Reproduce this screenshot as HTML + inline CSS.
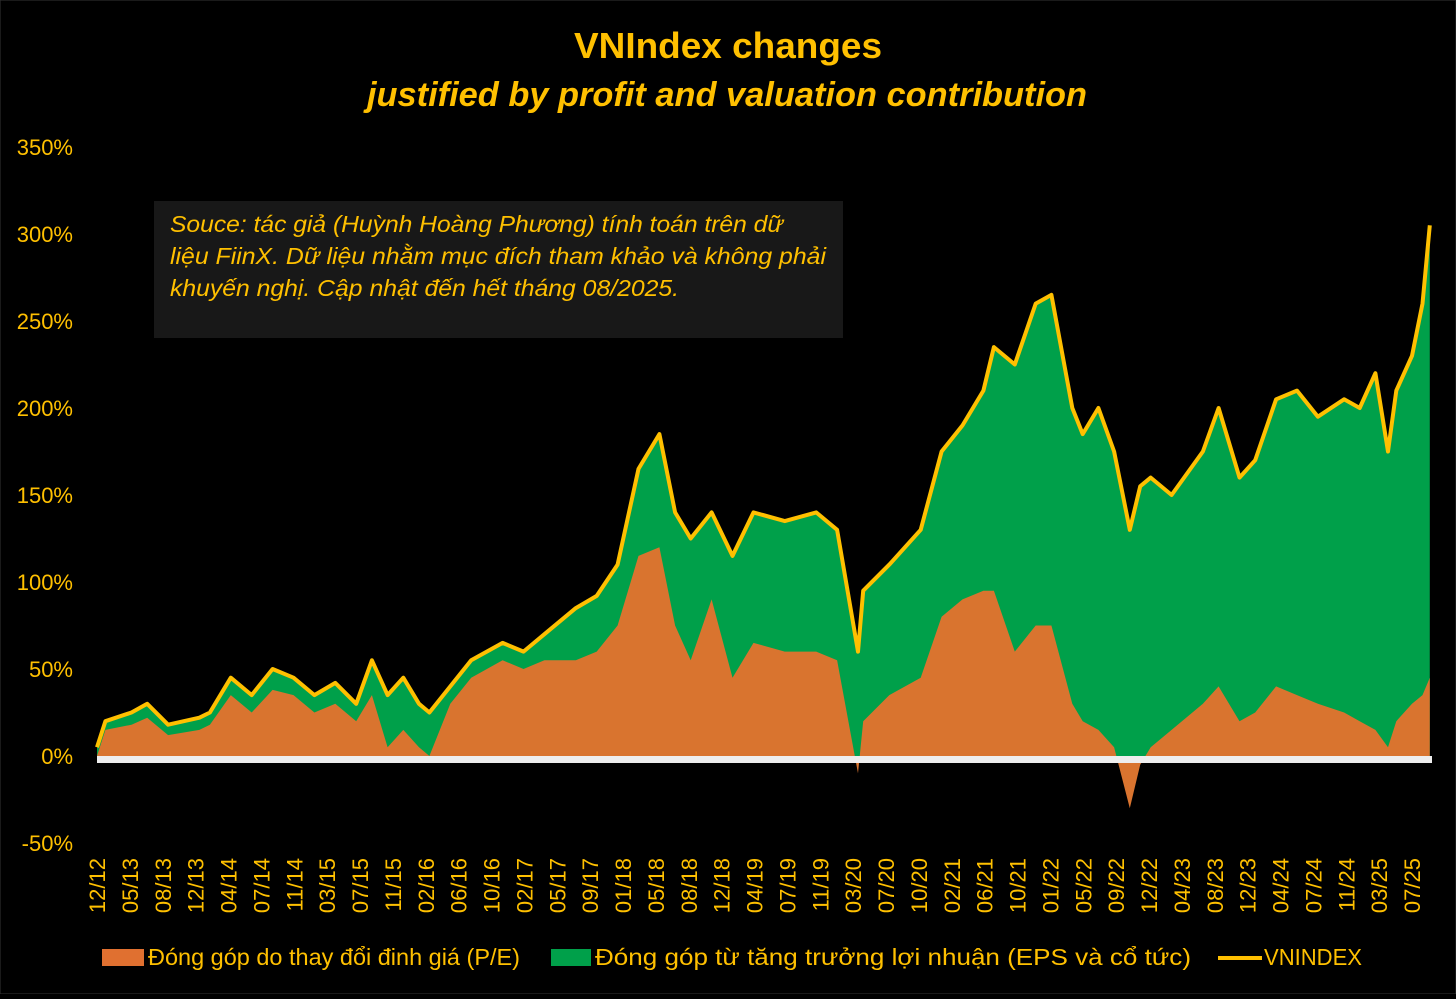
<!DOCTYPE html>
<html><head><meta charset="utf-8">
<style>
body{margin:0;background:#000;width:1456px;height:994px;overflow:hidden;font-family:"Liberation Sans","DejaVu Sans",sans-serif;}
svg text{font-family:"Liberation Sans","DejaVu Sans",sans-serif;}
</style></head>
<body>
<svg id="chart" width="1456" height="994" xmlns="http://www.w3.org/2000/svg">
<rect x="0" y="0" width="1456" height="994" fill="#000" stroke="#333"/>
<text x="574" y="58" textLength="308" lengthAdjust="spacingAndGlyphs" fill="#FFC000" font-size="36" font-weight="bold">VNIndex changes</text>
<text x="367" y="106" textLength="720" lengthAdjust="spacingAndGlyphs" fill="#FFC000" font-size="34" font-weight="bold" font-style="italic">justified by profit and valuation contribution</text>
<g id="plot"></g>
<g id="yaxis"></g>
<g id="xaxis"></g>
<rect x="154" y="201" width="689" height="137" fill="#181818"/>
<text fill="#FFC000" font-size="23" font-style="italic">
<tspan x="170" y="232" textLength="613" lengthAdjust="spacingAndGlyphs">Souce: tác giả (Huỳnh Hoàng Phương) tính toán trên dữ</tspan>
<tspan x="170" y="264" textLength="656" lengthAdjust="spacingAndGlyphs">liệu FiinX. Dữ liệu nhằm mục đích tham khảo và không phải</tspan>
<tspan x="170" y="296" textLength="509" lengthAdjust="spacingAndGlyphs">khuyến nghị. Cập nhật đến hết tháng 08/2025.</tspan>
</text>
<g>
<rect x="102" y="949" width="42" height="17" fill="#E07030"/>
<text x="148" y="965" textLength="372" lengthAdjust="spacingAndGlyphs" fill="#FFC000" font-size="23">Đóng góp do thay đổi đinh giá (P/E)</text>
<rect x="551" y="949" width="40" height="17" fill="#00A04A"/>
<text x="595" y="965" textLength="596" lengthAdjust="spacingAndGlyphs" fill="#FFC000" font-size="23">Đóng góp từ tăng trưởng lợi nhuận (EPS và cổ tức)</text>
<line x1="1218" y1="958" x2="1262" y2="958" stroke="#FFC000" stroke-width="4"/>
<text x="1264" y="965" textLength="98" lengthAdjust="spacingAndGlyphs" fill="#FFC000" font-size="23">VNINDEX</text>
</g>
</svg>
<script>
const dates=[2012.92,2013.0,2013.25,2013.4,2013.6,2013.9,2014.0,2014.2,2014.4,2014.6,2014.8,2015.0,2015.2,2015.4,2015.55,2015.7,2015.85,2016.0,2016.1,2016.3,2016.5,2016.8,2017.0,2017.2,2017.5,2017.7,2017.9,2018.1,2018.3,2018.45,2018.6,2018.8,2019.0,2019.2,2019.5,2019.8,2020.0,2020.2,2020.25,2020.5,2020.8,2021.0,2021.2,2021.4,2021.5,2021.7,2021.9,2022.05,2022.25,2022.35,2022.5,2022.65,2022.8,2022.9,2023.0,2023.2,2023.5,2023.65,2023.85,2024.0,2024.2,2024.4,2024.6,2024.85,2025.0,2025.15,2025.27,2025.35,2025.5,2025.6,2025.67];
const vnindex=[5,20,25,30,18,22,25,45,35,50,45,35,42,30,55,35,45,30,25,40,55,65,60,70,85,92,110,165,185,140,125,140,115,140,135,140,130,60,95,110,130,175,190,210,235,225,260,265,200,185,200,175,130,155,160,150,175,200,160,170,205,210,195,205,200,220,175,210,230,260,305];
const peContribution=[0,15,18,22,12,15,18,35,25,38,35,25,30,20,35,5,15,5,0,30,45,55,50,55,55,60,75,115,120,75,55,90,45,65,60,60,55,-10,20,35,45,80,90,95,95,60,75,75,30,20,15,5,-30,-5,5,15,30,40,20,25,40,35,30,25,20,15,5,20,30,35,45];
const yTicks=[-50,0,50,100,150,200,250,300,350];
const xTickLabels=["12/12","05/13","08/13","12/13","04/14","07/14","11/14","03/15","07/15","11/15","02/16","06/16","10/16","02/17","05/17","09/17","01/18","05/18","08/18","12/18","04/19","07/19","11/19","03/20","07/20","10/20","02/21","06/21","10/21","01/22","05/22","09/22","12/22","04/23","08/23","12/23","04/24","07/24","11/24","03/25","07/25"];
const NS="http://www.w3.org/2000/svg";
function xs(t){return 97+(t-2012.92)*(1315/12.58);}
function ys(v){return 756-v*1.74;}
function mk(tag,attrs,parent){const e=document.createElementNS(NS,tag);for(const k in attrs)e.setAttribute(k,attrs[k]);parent.appendChild(e);return e;}
const plot=document.getElementById('plot');
function area(vals){let d='M'+xs(dates[0])+','+ys(0);dates.forEach((t,i)=>{d+=' L'+xs(t).toFixed(1)+','+ys(vals[i]).toFixed(1);});d+=' L'+xs(dates[dates.length-1])+','+ys(0)+' Z';return d;}
const g=mk('path',{d:area(vnindex),fill:'#00A04A'},plot);


const o=mk('path',{d:area(peContribution),fill:'#D9742F'},plot);


const axl=mk('rect',{x:97,y:756,width:1335,height:7,fill:'#eeeeee'},plot);


let ld='';dates.forEach((t,i)=>{ld+=(i?' L':'M')+xs(t).toFixed(1)+','+ys(vnindex[i]).toFixed(1);});
const ln=mk('path',{d:ld,fill:'none',stroke:'#FFC000','stroke-width':4,'stroke-linejoin':'round'},plot);


const ya=document.getElementById('yaxis');
yTicks.forEach(v=>{const t=mk('text',{x:73,y:ys(v)+8,'text-anchor':'end',fill:'#FFC000','font-size':22},ya);t.textContent=v+'%';

});
const xa=document.getElementById('xaxis');
xTickLabels.forEach((s,i)=>{const x=97+i*(1315/40);const t=mk('text',{x:0,y:0,'text-anchor':'end',fill:'#FFC000','font-size':22,transform:'translate('+(x+8)+',858) rotate(-90)'},xa);t.textContent=s;

});
</script>
</body></html>
